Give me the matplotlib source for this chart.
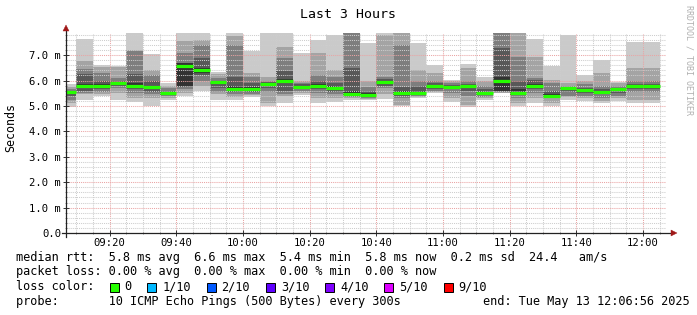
import matplotlib
matplotlib.use("Agg")
import matplotlib.pyplot as plt
import matplotlib.dates as mdates
import numpy as np
import pandas as pd
from matplotlib.patches import Polygon, Rectangle

# ---------------- data ----------------
# 5-minute step starts (first one is clipped by the left edge of the graph)
bar_start = pd.date_range("2025-05-13 09:05", periods=36, freq="5min")
view_start = pd.Timestamp("2025-05-13 09:06:56")
view_end = pd.Timestamp("2025-05-13 12:06:56")

# sorted ping results per step (ms), p1 = fastest ... p10 = slowest
p10 = [5.87, 7.65, 6.62, 6.58, 7.87, 7.05, 5.90, 7.87, 7.87, 6.35, 7.87, 7.18,
       7.87, 7.87, 7.10, 7.60, 7.80, 7.90, 7.47, 7.87, 7.87, 7.47, 6.62, 6.02,
       6.65, 6.13, 7.88, 7.88, 7.62, 6.57, 7.80, 6.22, 6.81, 5.96, 7.50, 7.50]
p9 = [5.75, 6.78, 6.55, 6.55, 7.20, 6.42, 5.80, 7.57, 7.60, 6.25, 7.75, 6.28,
      6.15, 7.30, 6.00, 7.08, 6.42, 7.88, 6.00, 7.80, 7.86, 6.42, 6.30, 6.00,
      6.50, 6.00, 7.87, 7.86, 6.94, 6.02, 5.90, 6.00, 6.30, 5.90, 6.50, 6.50]
p8 = [5.65, 6.46, 6.30, 6.10, 7.15, 6.22, 5.70, 7.10, 7.40, 6.10, 7.40, 6.12,
      6.00, 6.90, 5.90, 6.20, 6.15, 7.87, 5.75, 6.15, 7.40, 6.00, 6.00, 5.90,
      6.00, 5.80, 7.86, 6.93, 6.10, 5.90, 5.80, 5.85, 5.80, 5.80, 6.00, 6.00]
p7 = [5.58, 6.27, 6.00, 6.00, 6.25, 6.00, 5.60, 6.70, 6.88, 6.00, 6.15, 5.90,
      5.95, 6.38, 5.85, 6.00, 5.90, 6.50, 5.60, 6.05, 5.75, 5.80, 5.90, 5.82,
      5.85, 5.65, 7.28, 6.00, 6.02, 5.60, 5.75, 5.70, 5.65, 5.72, 5.88, 5.88]
p6 = [5.55, 5.85, 5.85, 5.95, 5.90, 5.80, 5.55, 6.68, 6.50, 5.95, 5.80, 5.75,
      5.90, 6.05, 5.80, 5.85, 5.78, 5.60, 5.50, 5.98, 5.60, 5.60, 5.82, 5.77,
      5.80, 5.55, 6.15, 5.65, 5.85, 5.45, 5.72, 5.65, 5.60, 5.68, 5.83, 5.83]
p5 = [5.52, 5.70, 5.75, 5.90, 5.75, 5.68, 5.48, 5.80, 6.30, 5.85, 5.65, 5.62,
      5.80, 5.90, 5.72, 5.75, 5.65, 5.45, 5.42, 5.90, 5.50, 5.50, 5.75, 5.72,
      5.75, 5.48, 5.60, 5.50, 5.75, 5.38, 5.65, 5.58, 5.52, 5.62, 5.76, 5.76]
p4 = [5.40, 5.60, 5.65, 5.80, 5.65, 5.55, 5.42, 5.75, 6.20, 5.70, 5.55, 5.55,
      5.70, 5.60, 5.65, 5.65, 5.55, 5.40, 5.38, 5.80, 5.40, 5.45, 5.68, 5.65,
      5.60, 5.42, 5.58, 5.42, 5.65, 5.35, 5.55, 5.50, 5.45, 5.50, 5.68, 5.68]
p3 = [5.25, 5.52, 5.55, 5.70, 5.50, 5.45, 5.38, 5.65, 6.00, 5.55, 5.45, 5.48,
      5.55, 5.45, 5.58, 5.50, 5.45, 5.35, 5.33, 5.70, 5.30, 5.40, 5.60, 5.50,
      5.40, 5.35, 5.55, 5.30, 5.50, 5.30, 5.40, 5.40, 5.30, 5.40, 5.55, 5.55]
p2 = [5.10, 5.45, 5.45, 5.50, 5.30, 5.30, 5.32, 5.50, 5.80, 5.45, 5.35, 5.42,
      5.10, 5.38, 5.50, 5.30, 5.30, 5.30, 5.28, 5.45, 5.05, 5.35, 5.55, 5.30,
      5.05, 5.30, 5.52, 5.10, 5.30, 5.10, 5.35, 5.30, 5.20, 5.30, 5.25, 5.25]
p1 = [4.95, 5.24, 5.38, 5.25, 5.15, 5.00, 5.25, 5.40, 5.60, 5.25, 5.25, 5.37,
      5.00, 5.10, 5.43, 5.10, 5.15, 5.24, 5.24, 5.27, 5.00, 5.30, 5.50, 5.17,
      4.95, 5.24, 5.50, 5.00, 5.10, 5.00, 5.25, 5.20, 5.10, 5.20, 5.10, 5.10]
median = [5.54, 5.77, 5.79, 5.92, 5.80, 5.74, 5.50, 6.58, 6.42, 5.96, 5.67, 5.66,
          5.85, 6.00, 5.75, 5.80, 5.70, 5.46, 5.43, 5.95, 5.50, 5.51, 5.77, 5.74,
          5.79, 5.50, 6.00, 5.52, 5.77, 5.40, 5.70, 5.62, 5.56, 5.65, 5.79, 5.79]

y_ticks = [0, 1, 2, 3, 4, 5, 6, 7]
y_labels = ["0.0", "1.0 m", "2.0 m", "3.0 m", "4.0 m", "5.0 m", "6.0 m", "7.0 m"]

stats_line = "median rtt:  5.8 ms avg  6.6 ms max  5.4 ms min  5.8 ms now  0.2 ms sd  24.4   am/s"
loss_line = "packet loss: 0.00 % avg  0.00 % max  0.00 % min  0.00 % now"
probe_line = "probe:       10 ICMP Echo Pings (500 Bytes) every 300s"
end_line = "end: Tue May 13 12:06:56 2025"
loss_labels = ["0", "1/10", "2/10", "3/10", "4/10", "5/10", "9/10"]
loss_colors = ["#26ff00", "#00b8ff", "#0059ff", "#5e00ff", "#7e00ff", "#dd00ff", "#ff0000"]

# ---------------- figure ----------------
W, H = 697, 315
fig = plt.figure(figsize=(W / 100, H / 100), dpi=100)
fig.patch.set_facecolor("white")
ax = fig.add_axes([66 / W, (H - 233) / H, 600 / W, 200 / H])
ax.set_facecolor("white")

mono = "DejaVu Sans Mono"
x0 = mdates.date2num(bar_start.to_pydatetime())
step = 5 / 1440.0

pings = [np.array(p) for p in (p1, p2, p3, p4, p5, p6, p7, p8, p9, p10)]
smoke_colors = ["#cacaca", "#a4a4a4", "#7e7e7e", "#585858", "#323232"]
for i in range(5):
    lo = pings[i]
    hi = pings[9 - i]
    ax.bar(x0, hi - lo, bottom=lo, width=step, align="edge",
           color=smoke_colors[i], linewidth=0, antialiased=False, zorder=1 + i * 0.1)

ax.hlines(median, x0, x0 + step, colors="#26ff00", linewidth=2.3, zorder=4)

ax.set_xlim(mdates.date2num(view_start.to_pydatetime()), mdates.date2num(view_end.to_pydatetime()))
ax.set_ylim(0, 7.87)

ax.xaxis.set_major_locator(mdates.MinuteLocator(byminute=[0, 20, 40]))
ax.xaxis.set_minor_locator(mdates.MinuteLocator(byminute=range(0, 60, 5)))
ax.xaxis.set_major_formatter(mdates.DateFormatter("%H:%M"))
ax.set_yticks(y_ticks)
ax.set_yticklabels(y_labels)
ax.set_yticks(np.arange(0, 7.9, 0.2), minor=True)

ax.set_axisbelow(False)
ax.grid(which="minor", color="#cdcdcd", linestyle=(0, (1, 1)), linewidth=0.75)
ax.grid(which="major", color="#eaa4a4", linestyle=(0, (1, 1)), linewidth=0.75)

for s in ax.spines.values():
    s.set_visible(False)

ax.tick_params(which="major", direction="inout", length=4, width=0.7, color="#333333",
               labelsize=7.6, pad=1.5)
ax.tick_params(which="minor", direction="inout", length=2, width=0.5, color="#666666")
for lab in ax.get_xticklabels() + ax.get_yticklabels():
    lab.set_fontfamily(mono)

# axis lines with arrows
ax.plot([-4 / 600, 606 / 600], [0, 0], transform=ax.transAxes, clip_on=False,
        color="#222222", linewidth=0.9, zorder=6)
ax.plot([0, 0], [-4 / 200, 204 / 200], transform=ax.transAxes, clip_on=False,
        color="#222222", linewidth=0.9, zorder=6)
arrow_c = "#a01818"
ax.add_patch(Polygon([[605 / 600, 3 / 200], [605 / 600, -3 / 200], [611 / 600, 0]],
                     closed=True, transform=ax.transAxes, clip_on=False,
                     facecolor=arrow_c, edgecolor=arrow_c, linewidth=0.3, zorder=7))
ax.add_patch(Polygon([[-3 / 600, 202 / 200], [3 / 600, 202 / 200], [0, 208 / 200]],
                     closed=True, transform=ax.transAxes, clip_on=False,
                     facecolor=arrow_c, edgecolor=arrow_c, linewidth=0.3, zorder=7))

# texts
def fx(px):
    return px / W

def fy(py):
    return 1 - py / H

fig.text(fx(348), fy(14), "Last 3 Hours", family=mono, fontsize=9.5, ha="center", va="center")
fig.text(fx(11), fy(128), "Seconds", family=mono, fontsize=8.4, rotation=90, ha="center", va="center")
fig.text(fx(689), fy(60), "RRDTOOL / TOBI OETIKER", family=mono, fontsize=6, rotation=270,
         color="#b0b0b0", ha="center", va="center")

leg_fs = 8.6
fig.text(fx(16), fy(258), stats_line, family=mono, fontsize=leg_fs, va="center")
fig.text(fx(16), fy(271), loss_line, family=mono, fontsize=leg_fs, va="center")
fig.text(fx(16), fy(287), "loss color:", family=mono, fontsize=leg_fs, va="center")
fig.text(fx(16), fy(302), probe_line, family=mono, fontsize=leg_fs, va="center")
fig.text(fx(690), fy(302), end_line, family=mono, fontsize=leg_fs, va="center", ha="right")

cw = 7.2
bx = 109.5
for lab, col in zip(loss_labels, loss_colors):
    fig.add_artist(Rectangle((fx(bx), fy(292)), 9 / W, 9 / H, transform=fig.transFigure,
                             facecolor=col, edgecolor="black", linewidth=0.7))
    fig.text(fx(bx + 15), fy(287), lab, family=mono, fontsize=leg_fs, va="center")
    bx = bx + 15 + len(lab) * cw + 15.5

fig.savefig("out.png", dpi=100, facecolor="white")
